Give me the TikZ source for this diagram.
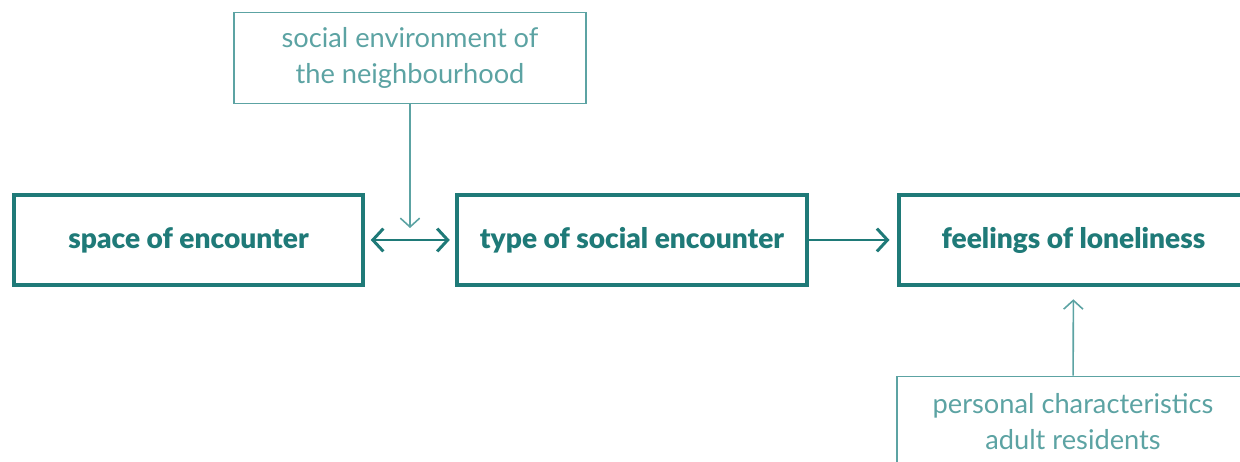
\documentclass[tikz,border=0pt]{standalone}
\usepackage{fontspec}
\setmainfont{Lato}[BoldFont={Lato Black}]
\usepackage{tikz}
\usetikzlibrary{arrows.meta,positioning}

\definecolor{tealdark}{HTML}{1F7A78}
\definecolor{teallight}{HTML}{5CA3A3}

\begin{document}
\begin{tikzpicture}[
    x=0.02cm, y=-0.02cm,
    mainbox/.style={rectangle, draw=tealdark, line width=2.3pt, minimum width=7.0cm, minimum height=1.8cm, text=tealdark, font=\fontsize{16}{18}\selectfont\bfseries},
    sidebox/.style={rectangle, draw=teallight, line width=1.1pt, minimum width=7.05cm, minimum height=1.82cm, text=teallight, align=center, font=\fontsize{15.5}{20.5}\selectfont},
    arrow/.style={-{Straight Barb[length=6pt, width=13pt, line width=1.7pt]}, draw=tealdark, line width=1.7pt},
    twoway/.style={{Straight Barb[length=6pt, width=13pt, line width=1.7pt]}-{Straight Barb[length=6pt, width=13pt, line width=1.7pt]}, draw=tealdark, line width=1.7pt},
    thinarrow/.style={-{Straight Barb[length=5pt, width=11pt, line width=0.9pt]}, draw=teallight, line width=0.9pt}
]
\useasboundingbox (0,0) rectangle (1240,462);

% Main chain
\node[mainbox] (space) at (188.5,240) {space of encounter};
\node[mainbox] (type) at (632,240) {type of social encounter};
\node[mainbox] (lonely) at (1073.5,240) {feelings of loneliness};

% Influencing factors
\node[sidebox] (environment) at (410,58) {social environment of\\the neighbourhood};
\node[sidebox] (personal) at (1073,422) {personal characteristics\\adult residents};

\coordinate (meet) at (410,228);

% Arrows
\draw[twoway, shorten <=3pt, shorten >=3pt] (space) -- (type);
\draw[arrow, shorten >=4pt] (type) -- (lonely);
\draw[thinarrow] (environment) -- (meet);
\draw[thinarrow, shorten >=7pt] (personal) -- (lonely);

\end{tikzpicture}
\end{document}
